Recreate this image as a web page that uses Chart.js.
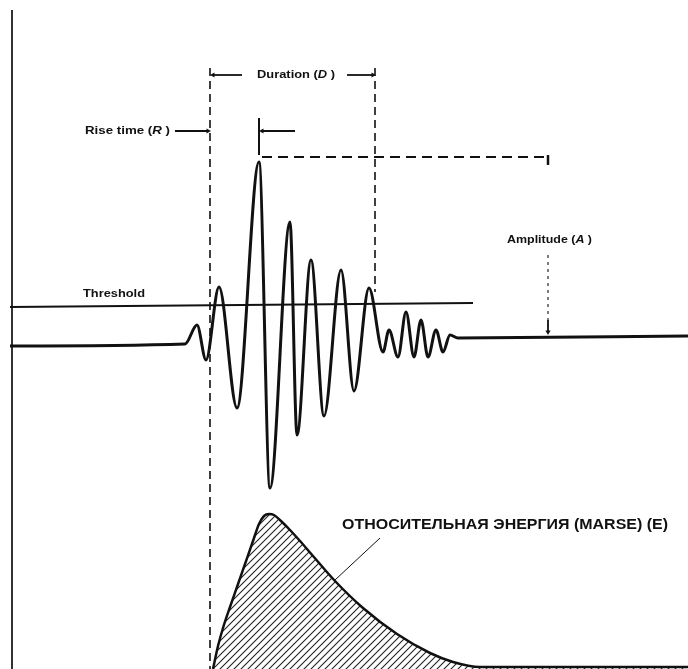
<!DOCTYPE html>
<html>
<head>
<meta charset="utf-8">
<script src="https://cdn.jsdelivr.net/npm/chart.js@4.4.1/dist/chart.umd.min.js"></script>
<style>
  html, body { margin: 0; padding: 0; background: #fff; }
  #wrap { width: 688px; height: 669px; position: relative; }
</style>
</head>
<body>
<div id="wrap"><canvas id="c"></canvas></div>
<script>
// acoustic emission burst (time -> signal level, y grows downward)
const waveX = [10, 185, 197, 206, 219, 237, 259, 270, 290, 297, 311, 324, 341, 354, 369, 383, 389, 398, 406, 414, 421, 428, 436, 443, 450, 458, 688];
const waveY = [346, 344, 325, 360, 287, 408, 162, 488, 222, 435, 260, 416, 270, 391, 288, 352, 330, 357, 312, 357, 320, 357, 330, 352, 335, 338, 336];

// relative energy (MARSE) envelope
const energyX = [213, 218, 223, 230, 237, 245, 253, 259, 264, 269, 274, 281, 290, 300, 313, 335, 363, 397, 430, 453, 480, 688];
const energyY = [669, 646, 628, 607, 587, 564, 541, 524, 516, 514, 515, 521, 530, 541, 556, 581, 608, 634, 653, 662, 667, 667];

// threshold level
const thresholdX = [10, 473];
const thresholdY = [307, 303];

const pts = (xs, ys) => xs.map((x, i) => ({ x: x, y: ys[i] }));

function seg(x1, y1, x2, y2, width, dash, color) {
  return {
    data: [{ x: x1, y: y1 }, { x: x2, y: y2 }],
    borderColor: color || '#111',
    borderWidth: width,
    borderDash: dash || [],
    pointRadius: 0,
    fill: false
  };
}

function arrow(x1, y1, x2, y2, rot) {
  return {
    data: [{ x: x1, y: y1 }, { x: x2, y: y2 }],
    borderColor: '#111',
    borderWidth: 1.8,
    pointStyle: 'triangle',
    pointRadius: [0, 3],
    pointRotation: [0, rot],
    pointBackgroundColor: '#111',
    pointBorderColor: '#111',
    pointBorderWidth: 0,
    fill: false
  };
}

const canvas = document.getElementById('c');
const ctx = canvas.getContext('2d');

// diagonal hatching for the energy area
function hatch() {
  const p = document.createElement('canvas');
  p.width = 7; p.height = 7;
  const g = p.getContext('2d');
  g.strokeStyle = '#222';
  g.lineWidth = 1.1;
  g.beginPath();
  g.moveTo(-1, 8); g.lineTo(8, -1);
  g.moveTo(-1, 1); g.lineTo(1, -1);
  g.moveTo(6, 8); g.lineTo(8, 6);
  g.stroke();
  return ctx.createPattern(p, 'repeat');
}

// labels: [text, italic]
const labels = [
  { parts: [['Duration (', 0], ['D', 1], [' )', 0]], x: 257, y: 75, w: 78, size: 10 },
  { parts: [['Rise time (', 0], ['R', 1], [' )', 0]], x: 85, y: 131, w: 85, size: 10 },
  { parts: [['Threshold', 0]], x: 83, y: 294, w: 62, size: 10 },
  { parts: [['Amplitude (', 0], ['A', 1], [' )', 0]], x: 507, y: 240, w: 85, size: 10 },
  { parts: [['ОТНОСИТЕЛЬНАЯ ЭНЕРГИЯ (MARSE) (E)', 0]], x: 342, y: 525, w: 326, size: 14 }
];

const textPlugin = {
  id: 'texts',
  afterDatasetsDraw(chart) {
    const c = chart.ctx, sx = chart.scales.x, sy = chart.scales.y;
    c.save();
    c.fillStyle = '#111';
    c.textBaseline = 'middle';
    labels.forEach(l => {
      const font = it => (it ? 'italic ' : '') + 'bold ' + l.size + 'px "Liberation Sans", Arial, sans-serif';
      let total = 0;
      l.parts.forEach(p => { c.font = font(p[1]); total += c.measureText(p[0]).width; });
      const x0 = sx.getPixelForValue(l.x), y0 = sy.getPixelForValue(l.y);
      const k = (sx.getPixelForValue(l.x + l.w) - x0) / total;
      c.save();
      c.translate(x0, y0);
      c.scale(k, 1);
      let cx = 0;
      l.parts.forEach(p => {
        c.font = font(p[1]);
        c.fillText(p[0], cx, 0);
        cx += c.measureText(p[0]).width;
      });
      c.restore();
    });
    c.restore();
  }
};

new Chart(ctx, {
  type: 'line',
  data: {
    datasets: [
      // energy envelope, hatched
      {
        data: pts(energyX, energyY),
        borderColor: '#111',
        borderWidth: 2.5,
        backgroundColor: hatch(),
        fill: { value: 669 },
        cubicInterpolationMode: 'monotone',
        pointRadius: 0
      },
      // waveform
      {
        data: pts(waveX, waveY),
        borderColor: '#111',
        borderWidth: 3,
        cubicInterpolationMode: 'monotone',
        pointRadius: 0,
        fill: false
      },
      // threshold
      Object.assign(seg(0, 0, 0, 0, 2), { data: pts(thresholdX, thresholdY) }),
      // vertical axis
      seg(12, 10, 12, 669, 2, [], '#333'),
      // duration / rise-time dashed markers
      seg(210, 68, 210, 669, 1.6, [8, 5]),
      seg(375, 68, 375, 292, 1.6, [8, 5]),
      seg(262, 157, 548, 157, 1.8, [10, 6]),
      seg(548, 155, 548, 165, 2.5),
      seg(259, 118, 259, 155, 2),
      // amplitude dotted marker
      seg(548, 255, 548, 326, 1.1, [3, 4]),
      arrow(548, 320, 548, 332, 180),
      // arrows
      arrow(242, 75, 213, 75, -90),
      arrow(347, 75, 373, 75, 90),
      arrow(175, 131, 208, 131, 90),
      arrow(295, 131, 262, 131, -90),
      // leader from energy label
      seg(380, 538, 335, 580, 1)
    ]
  },
  options: {
    responsive: true,
    maintainAspectRatio: false,
    animation: false,
    layout: { padding: 0, autoPadding: false },
    plugins: { legend: { display: false }, tooltip: { enabled: false } },
    scales: {
      x: { type: 'linear', min: 0, max: 688, display: false },
      y: { type: 'linear', min: 0, max: 669, reverse: true, display: false }
    }
  },
  plugins: [textPlugin]
});
</script>
</body>
</html>
